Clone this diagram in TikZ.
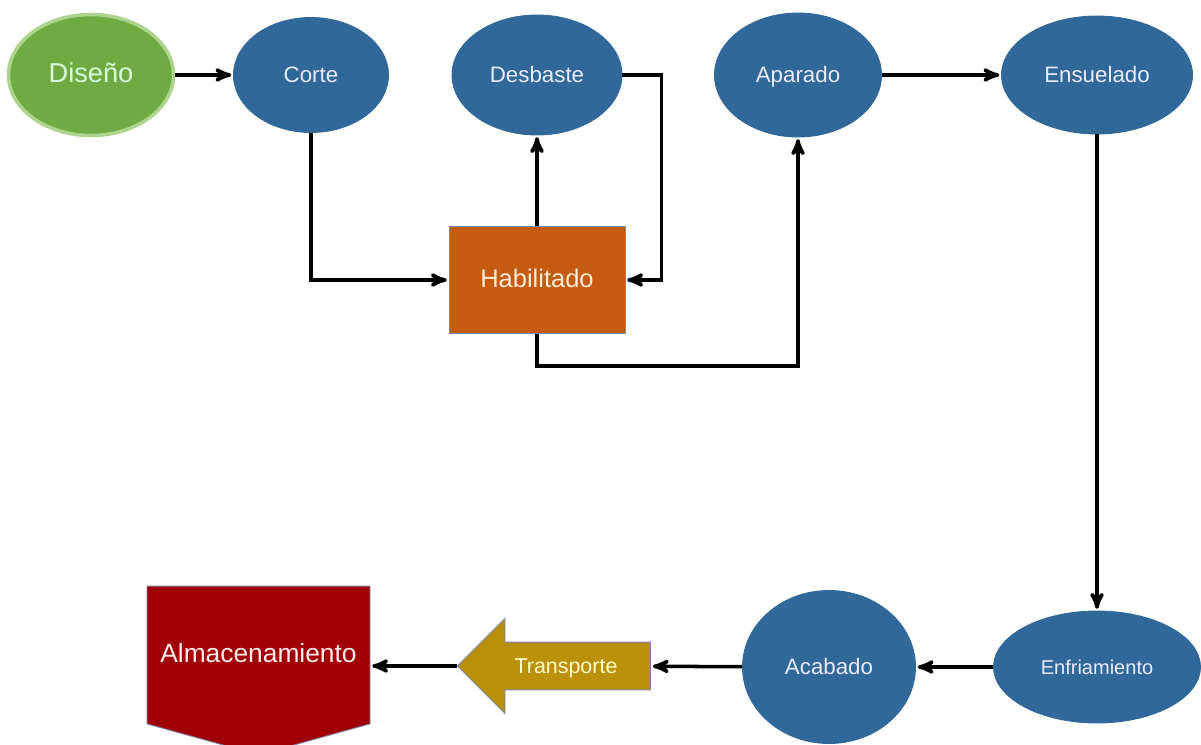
\documentclass[tikz,border=0pt]{standalone}
\usepackage{fontspec}
\setmainfont{Liberation Sans}
\usepackage{tikz}
\usetikzlibrary{shapes,arrows,shapes.symbols,shapes.arrows}

\definecolor{azul}{RGB}{47,104,153}
\definecolor{verde}{RGB}{112,170,66}
\definecolor{verdeclaro}{RGB}{172,212,140}
\definecolor{naranja}{RGB}{197,90,17}
\definecolor{rojo}{RGB}{160,0,4}
\definecolor{oro}{RGB}{188,145,10}
\definecolor{borde}{RGB}{120,135,170}

\begin{document}
\begin{tikzpicture}[->,>=stealth',shorten >=1pt,line width=2pt,node distance=4.4cm]
\tikzstyle{proceso}=[ellipse,fill=azul,draw=azul,line width=0.5pt,inner sep=0pt,text height=0.9em,text depth=0em,text=blue!8!white,font=\fontsize{12.7}{15}\selectfont]
\tikzstyle{caja}=[rectangle,draw=borde,line width=0.5pt,inner sep=0pt,text height=0.9em,text depth=0em]
\useasboundingbox (0,0) rectangle (24.02,-14.9);
\node[proceso,fill=verde,draw=verdeclaro,line width=2pt,minimum width=3.3cm,minimum height=2.42cm,text=green!15!white,font=\fontsize{15.5}{18}\selectfont] (Dis) at (1.82,-1.5) {Diseño};
\node[proceso,minimum width=3.1cm,minimum height=2.3cm][right of=Dis](Cor){Corte};
\node[proceso,minimum width=3.4cm,minimum height=2.4cm][node distance=4.52cm,right of=Cor](Des){Desbaste};
\node[proceso,minimum width=3.34cm,minimum height=2.48cm][node distance=5.22cm,right of=Des](Apa){Aparado};
\node[proceso,minimum width=3.82cm,minimum height=2.36cm][node distance=5.98cm,right of=Apa](Ens){Ensuelado};
\node[caja,fill=naranja,minimum width=3.52cm,minimum height=2.14cm,text=orange!15!white,font=\fontsize{14.5}{17}\selectfont][node distance=4.1cm,below of=Des](Hab){Habilitado};
\node[proceso,minimum width=4.14cm,minimum height=2.24cm,font=\fontsize{11.4}{14}\selectfont][node distance=11.84cm,below of=Ens](Enf){Enfriamiento};
\node[proceso,minimum width=3.46cm,minimum height=3.06cm][node distance=5.36cm,left of=Enf](Aca){Acabado};
\node[caja,single arrow,shape border rotate=180,fill=oro,inner ysep=0.3cm,minimum height=3.86cm,minimum width=1.9cm,single arrow head extend=0.46cm,text=yellow!20!white,font=\fontsize{12.2}{14}\selectfont] (Tra) at (11.32,-13.32) {Transporte};
\node[caja,signal,signal to=south,signal pointer angle=149,fill=rojo,minimum width=4.46cm,minimum height=3.3cm,text=red!8!white,font=\fontsize{15}{18}\selectfont] (Alm) at (5.17,-13.1) {Almacenamiento};
\path (Dis) edge (Cor)
      (Hab) edge (Des)
      (Apa) edge (Ens)
      (Ens) edge (Enf)
      (Enf) edge (Aca)
      (Aca) edge (Tra);
\draw (Cor) |- (Hab);
\draw (Des.east) -- ++(0.78,0) |- (Hab.east);
\draw (Hab.south) -- ++(0,-0.64) -| (Apa.south);
\draw (Tra.tip) -- (Tra.tip -| Alm.east);
\end{tikzpicture}
\end{document}
